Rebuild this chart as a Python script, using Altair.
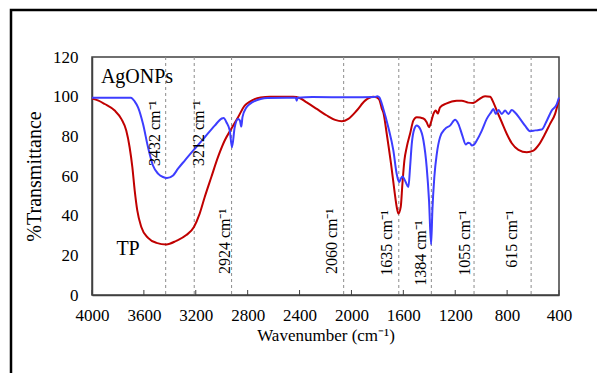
import altair as alt
import pandas as pd

# ---- chart values ----
tp_wn = [4000, 3950, 3902, 3825, 3774, 3736, 3710, 3689, 3671, 3651, 3620, 3568, 3504, 3427,
         3350, 3273, 3214, 3170, 3131, 3080, 3029, 2977, 2926, 2874, 2823, 2782, 2746, 2700,
         2628, 2450, 2400, 2345, 2267, 2190, 2126, 2075, 2024, 1959, 1895, 1831, 1805, 1785,
         1766, 1754, 1728, 1695, 1669, 1651, 1638, 1620, 1607, 1592, 1574, 1548, 1523, 1497,
         1445, 1420, 1402, 1387, 1368, 1350, 1335, 1317, 1270, 1188, 1150, 1100, 1060, 1020,
         970, 931, 906, 880, 841, 803, 764, 713, 648, 597, 559, 507, 469, 430, 400]
tp_t = [99.0, 98.0, 96.3, 93.0, 88.8, 82.9, 74.5, 64.5, 52.8, 42.7, 34.3, 28.8, 26.3, 25.5,
        27.3, 30.2, 34.3, 41.0, 49.4, 59.5, 69.5, 77.9, 83.8, 89.6, 95.5, 97.5, 98.8, 99.6,
        100.0, 99.9, 99.3, 97.1, 93.8, 90.5, 88.3, 87.6, 88.8, 93.0, 98.0, 100.0, 99.6, 98.5,
        94.0, 92.0, 81.3, 66.2, 52.8, 44.4, 41.0, 44.4, 56.1, 67.8, 74.5, 81.3, 87.9, 89.6,
        89.0, 87.1, 84.6, 87.0, 91.3, 93.0, 91.5, 94.6, 96.5, 98.0, 98.0, 97.0, 96.8, 98.5,
        100.2, 100.0, 97.1, 93.0, 87.1, 81.3, 76.5, 73.2, 72.0, 72.8, 75.4, 81.3, 86.3, 91.3, 98.8]

ag_wn = [4000, 3800, 3700, 3670, 3645, 3607, 3568, 3530, 3491, 3453, 3422, 3375, 3337, 3285,
         3208, 3131, 3054, 3000, 2985, 2964, 2938, 2921, 2900, 2874, 2860, 2849, 2840, 2810,
         2780, 2746, 2700, 2650, 2500, 2430, 2422, 2414, 2300, 2000, 1820, 1800, 1785, 1754,
         1716, 1677, 1651, 1633, 1620, 1607, 1582, 1561, 1548, 1535, 1515, 1497, 1471, 1445,
         1420, 1402, 1386, 1376, 1361, 1342, 1317, 1278, 1240, 1201, 1176, 1145, 1119, 1100,
         1086, 1073, 1055, 1034, 995, 957, 924, 906, 887, 867, 841, 816, 790, 764, 739, 700,
         662, 623, 584, 533, 494, 456, 417, 400]
ag_t = [99.5, 99.5, 99.5, 97.5, 94.6, 86.3, 74.5, 65.3, 61.2, 59.5, 59.0, 60.3, 63.7, 67.8,
        73.7, 79.5, 85.4, 89.0, 89.3, 87.1, 82.9, 74.5, 84.6, 88.8, 88.0, 84.9, 89.7, 94.5,
        96.5, 97.8, 98.8, 99.3, 99.5, 99.5, 98.0, 99.5, 99.8, 99.7, 99.8, 100.2, 99.6, 93.8,
        84.6, 72.9, 61.0, 56.9, 58.5, 59.8, 57.0, 54.4, 64.5, 76.2, 83.8, 85.4, 83.8, 77.9,
        64.5, 47.7, 25.5, 42.7, 59.5, 71.2, 79.5, 83.8, 85.4, 88.3, 86.3, 80.4, 75.9, 76.8,
        76.5, 75.4, 75.8, 77.9, 82.9, 88.8, 92.1, 93.8, 91.3, 93.3, 91.3, 93.0, 91.3, 93.3, 92.0, 88.8,
        85.4, 82.6, 83.0, 83.4, 87.9, 93.0, 96.3, 99.6]

peaks = [3432, 3212, 2924, 2060, 1635, 1384, 1055, 615]
peak_text = [f"{p} cm\u207b\u00b9" for p in peaks]
label_wn = [3514, 3175, 2975, 2150, 1728, 1466, 1124, 764]
label_top = [98, 98, 43.5, 43.5, 42.7, 37.6, 42.7, 42.7]

series_names = ["TP", "AgONPs"]
series_colors = ["#C00000", "#3D3DFF"]
name_wn = [3722, 3653]
name_t = [20.1, 107]

x_ticks = [4000, 3600, 3200, 2800, 2400, 2000, 1600, 1200, 800, 400]
y_ticks = [0, 20, 40, 60, 80, 100, 120]

# ---- tables ----
tp_df = pd.DataFrame({"wn": tp_wn, "t": tp_t, "series": "TP"})
ag_df = pd.DataFrame({"wn": ag_wn, "t": ag_t, "series": "AgONPs"})
peak_df = pd.DataFrame({"wn": peaks, "lx": label_wn, "ly": label_top, "txt": peak_text})
name_df = pd.DataFrame({"series": series_names, "wn": name_wn, "t": name_t})
tick_df = pd.DataFrame({"wn": x_ticks})

W, H = 467, 238
FONT = "Liberation Serif"
AX = "#404040"

xs = alt.Scale(domain=[400, 4000], reverse=True, nice=False, zero=False)
ys = alt.Scale(domain=[0, 120], nice=False, zero=True)
cs = alt.Scale(domain=series_names, range=series_colors)

x_axis = alt.Axis(values=x_ticks, format="d", title="Wavenumber (cm\u207b\u00b9)", ticks=False,
                  grid=False, labelFontSize=17, labelPadding=12, labelFlush=False,
                  labelOverlap=False, titleFontSize=17, titlePadding=4,
                  titleFontWeight="normal", domainColor=AX, domainWidth=1.5)
y_axis = alt.Axis(values=y_ticks, format="d", title="%Transmittance", ticks=False, grid=False,
                  tickCount=7, labelFontSize=17, labelPadding=14, labelFlush=False,
                  labelOverlap=False, labelBound=False,
                  titleFontSize=20, titlePadding=8, titleFontWeight="normal",
                  domainColor=AX, domainWidth=1.5)

X = lambda f: alt.X(f, scale=xs, axis=x_axis)
Y = lambda f: alt.Y(f, scale=ys, axis=y_axis)

frame = alt.Chart(pd.DataFrame({"a": [0]})).mark_rect(
    fillOpacity=0, stroke="black", strokeWidth=2.5
).encode(x=alt.value(-81), x2=alt.value(620), y=alt.value(-47), y2=alt.value(420))

dashed = alt.Chart(peak_df).mark_rule(color="#8c8c8c", strokeDash=[3, 3], strokeWidth=1).encode(
    x=X("wn:Q"),
)

ticks = alt.Chart(tick_df).mark_rule(color=AX, strokeWidth=1).encode(
    x=X("wn:Q"), y=alt.value(H), y2=alt.value(H - 5)
)

red = alt.Chart(tp_df).mark_line(strokeWidth=2, interpolate="monotone").encode(
    x=X("wn:Q"), y=Y("t:Q"),
    color=alt.Color("series:N", scale=cs, legend=None),
)
blue = alt.Chart(ag_df).mark_line(strokeWidth=2, interpolate="monotone").encode(
    x=X("wn:Q"), y=Y("t:Q"),
    color=alt.Color("series:N", scale=cs, legend=None),
)

labels = alt.Chart(peak_df).mark_text(
    angle=270, align="right", baseline="middle", fontSize=16, font=FONT, color="black"
).encode(x=X("lx:Q"), y=Y("ly:Q"), text="txt:N")

names = alt.Chart(name_df).mark_text(
    align="center", baseline="alphabetic", fontSize=20, font=FONT, color="black"
).encode(x=X("wn:Q"), y=Y("t:Q"), text="series:N")

chart = alt.layer(frame, dashed, ticks, red, blue, labels, names).properties(
    width=W, height=H,
    autosize=alt.AutoSizeParams(type="none"),
    padding={"left": 84, "top": 49, "right": 38, "bottom": 78},
).configure_view(
    stroke=AX, strokeWidth=1.5
).configure_axis(
    labelFont=FONT, titleFont=FONT, labelColor="black", titleColor="black",
    labelOverlap=False, labelFlush=False
)

chart.save("out.html", embed_options={"renderer": "svg", "actions": False})
